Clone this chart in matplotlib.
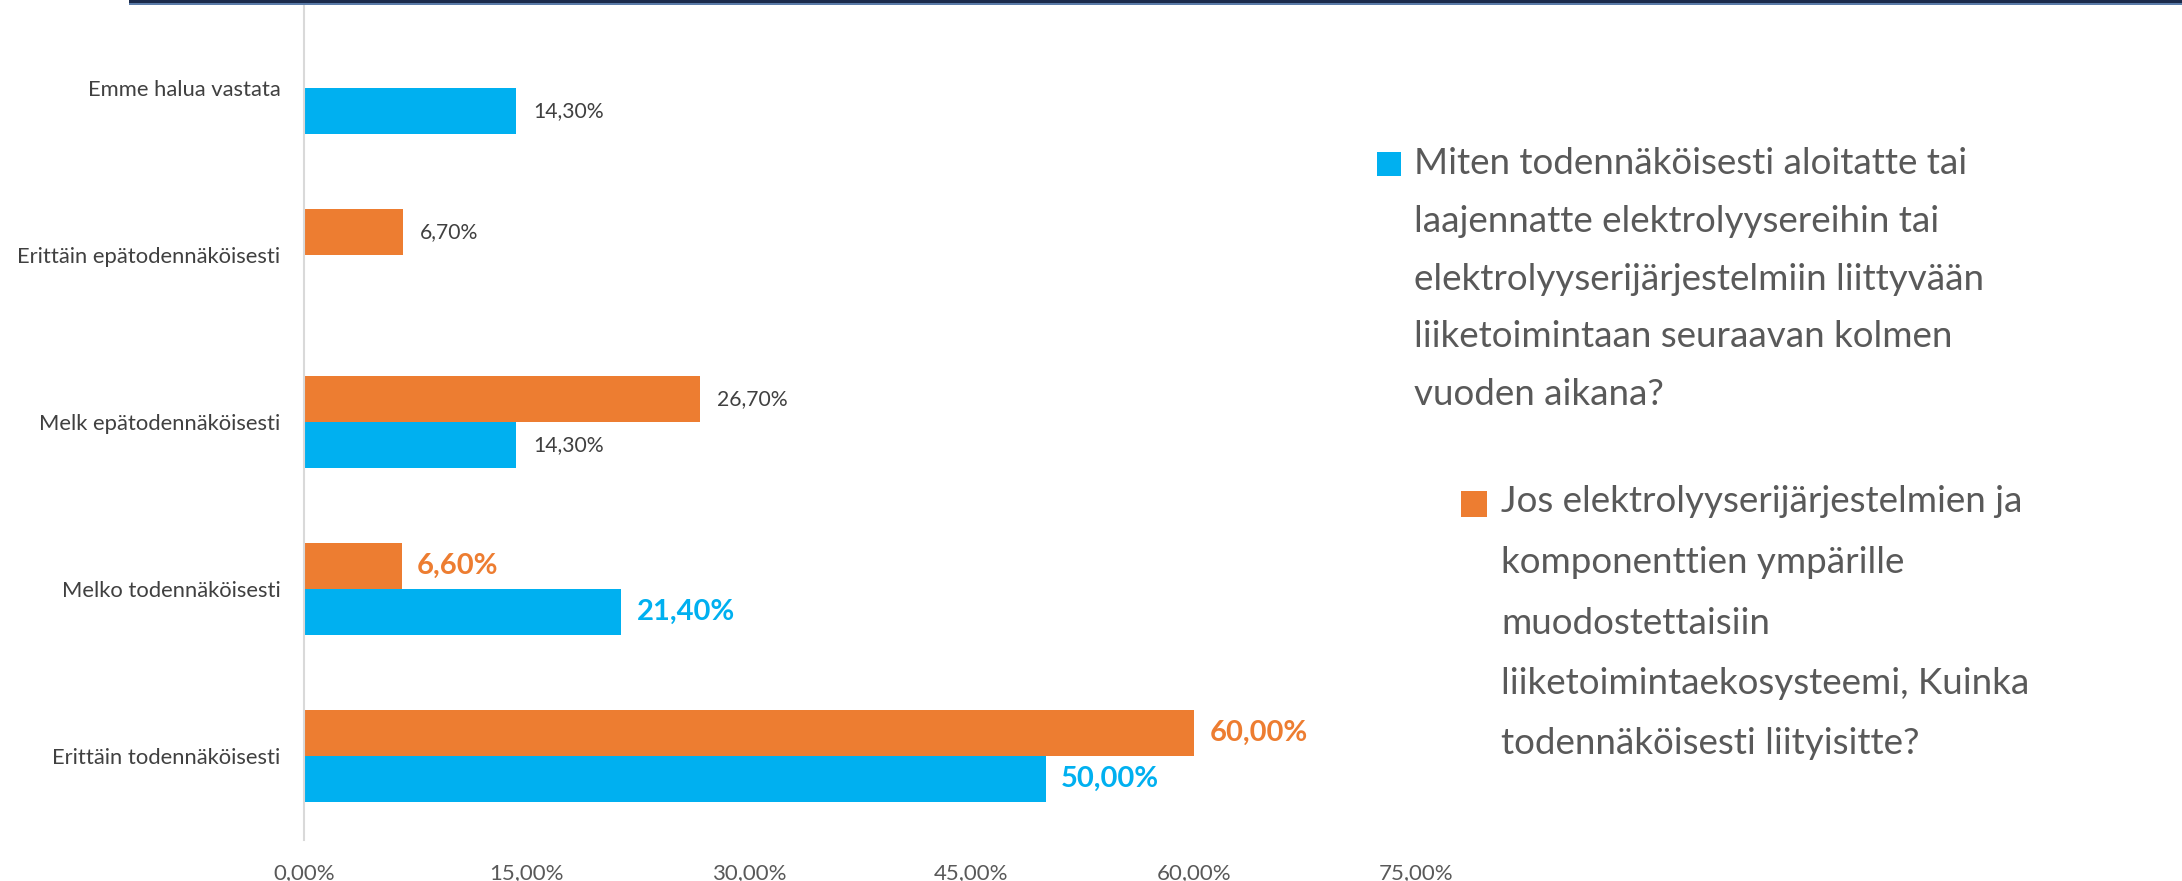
import matplotlib
matplotlib.use("Agg")
import matplotlib.pyplot as plt
from matplotlib.patches import Rectangle
import numpy as np

# ---- data ----
categories = ["Erittäin todennäköisesti", "Melko todennäköisesti", "Melk epätodennäköisesti",
              "Erittäin epätodennäköisesti", "Emme halua vastata"]
blue_values = [50.0, 21.4, 14.3, None, 14.3]
orange_values = [60.0, 6.6, 26.7, 6.7, None]
blue_labels = ["50,00%", "21,40%", "14,30%", None, "14,30%"]
orange_labels = ["60,00%", "6,60%", "26,70%", "6,70%", None]
highlight = [True, True, False, False, False]
xticks = [0, 15, 30, 45, 60, 75]
xticklabels = ["0,00%", "15,00%", "30,00%", "45,00%", "60,00%", "75,00%"]
legend_blue = ["Miten todennäköisesti aloitatte tai",
               "laajennatte elektrolyysereihin tai",
               "elektrolyyserijärjestelmiin liittyvään",
               "liiketoimintaan seuraavan kolmen",
               "vuoden aikana?"]
legend_orange = ["Jos elektrolyyserijärjestelmien ja",
                 "komponenttien ympärille",
                 "muodostettaisiin",
                 "liiketoimintaekosysteemi, Kuinka",
                 "todennäköisesti liityisitte?"]

BLUE = "#00B0F0"
ORANGE = "#ED7D31"
GRAY = "#595959"
FONT = ["Lato", "DejaVu Sans"]
plt.rcParams["font.family"] = FONT

W, H = 2182, 881
fig = plt.figure(figsize=(W / 100, H / 100), dpi=100)

def fx(x):
    return x / W

def fy(y):
    return 1 - y / H

ax = fig.add_axes([fx(304), fy(839.5), (1416.5 - 304) / W, 835 / H])

y = np.arange(len(categories))
bh = 0.278
for i in range(len(categories)):
    if blue_values[i] is not None:
        ax.barh(y[i] - bh / 2, blue_values[i], height=bh, color=BLUE)
    if orange_values[i] is not None:
        ax.barh(y[i] + bh / 2, orange_values[i], height=bh, color=ORANGE)

for i in range(len(categories)):
    for vals, labs, col, off in ((blue_values, blue_labels, BLUE, -bh / 2),
                                 (orange_values, orange_labels, ORANGE, bh / 2)):
        if vals[i] is None:
            continue
        if highlight[i]:
            ax.annotate(labs[i], (vals[i], y[i] + off), xytext=(11, 0), textcoords="offset points",
                        va="center", ha="left", fontsize=21, fontweight="bold", color=col)
        else:
            ax.annotate(labs[i], (vals[i], y[i] + off), xytext=(12, 0), textcoords="offset points",
                        va="center", ha="left", fontsize=15.2, color="#404040")

ax.set_xlim(0, 75)
ax.set_ylim(-0.5, len(categories) - 0.5)
ax.set_xticks(xticks)
ax.set_xticklabels(xticklabels, fontsize=16, color=GRAY)
ax.set_yticks(y)
ax.set_yticklabels(categories, fontsize=15.8, color="#404040")
ax.tick_params(axis="x", length=0, pad=17)
ax.tick_params(axis="y", length=0, pad=17)
for s in ("top", "right", "bottom"):
    ax.spines[s].set_visible(False)
ax.spines["left"].set_color("#D9D9D9")
ax.spines["left"].set_linewidth(1.5)

# top band
fig.patches.append(Rectangle((fx(129), fy(3.5)), 1 - fx(129), 3.5 / H, transform=fig.transFigure,
                             facecolor="#1B2B4B", edgecolor="none"))
fig.patches.append(Rectangle((fx(129), fy(5)), 1 - fx(129), 1.5 / H, transform=fig.transFigure,
                             facecolor="#5A7BA8", edgecolor="none"))

# legend
fig.patches.append(Rectangle((fx(1377), fy(176)), 24 / W, 24 / H, transform=fig.transFigure,
                             facecolor=BLUE, edgecolor="none"))
for k, line in enumerate(legend_blue):
    fig.text(fx(1414), fy(164 + k * 57.5), line, fontsize=26.5, color=GRAY, va="center", ha="left")

fig.patches.append(Rectangle((fx(1461), fy(517)), 26 / W, 26 / H, transform=fig.transFigure,
                             facecolor=ORANGE, edgecolor="none"))
for k, line in enumerate(legend_orange):
    fig.text(fx(1501), fy(502 + k * 60.5), line, fontsize=26.5, color=GRAY, va="center", ha="left")

fig.savefig("out.png", dpi=100)
